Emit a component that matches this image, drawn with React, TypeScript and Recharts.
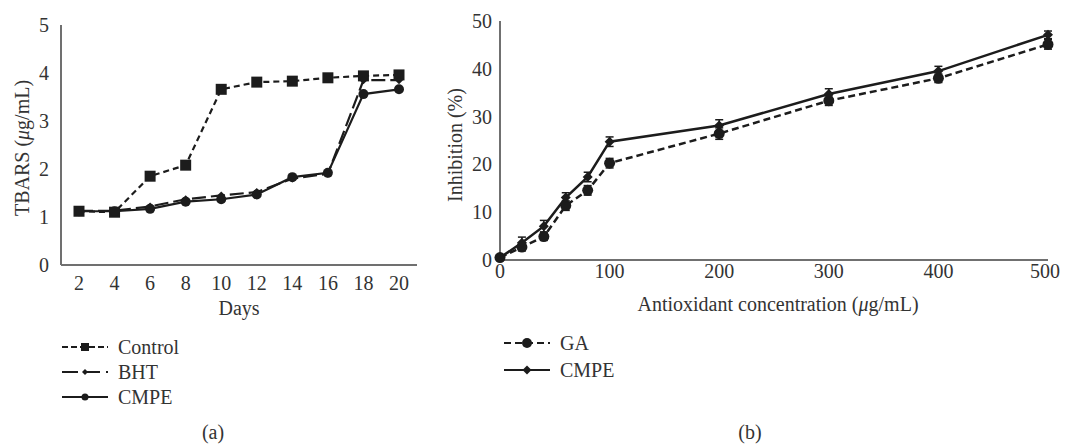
import { ErrorBar, Line, LineChart, XAxis, YAxis } from "recharts"

// (a) TBARS over storage days
const days = [2, 4, 6, 8, 10, 12, 14, 16, 18, 20]
const controlValues = [1.12, 1.1, 1.85, 2.08, 3.66, 3.81, 3.83, 3.9, 3.94, 3.96]
const bhtValues = [1.13, 1.13, 1.22, 1.37, 1.45, 1.52, 1.8, 1.9, 3.85, 3.85]
const cmpeDaysValues = [1.12, 1.12, 1.17, 1.32, 1.37, 1.47, 1.83, 1.92, 3.56, 3.66]
const tbarsTicks = [0, 1, 2, 3, 4, 5]

// (b) inhibition vs antioxidant concentration
const concentrations = [0, 20, 40, 60, 80, 100, 200, 300, 400, 500]
const gaValues = [0.4, 2.6, 4.8, 11.3, 14.5, 20.2, 26.4, 33.3, 38, 45.1]
const gaErrors = [0.4, 0.8, 0.8, 1, 1, 1, 1.2, 1, 0.9, 1]
const cmpeConcValues = [0.4, 3.5, 7, 13, 17.3, 24.7, 28.1, 34.7, 39.5, 47.1]
const cmpeConcErrors = [0.5, 1.2, 1.2, 1, 1, 1, 1.2, 1.1, 1, 0.8]
const concTicks = [0, 100, 200, 300, 400, 500]
const inhibitionTicks = [0, 10, 20, 30, 40, 50]

const daysData = days.map((d, i) => ({
  day: d,
  control: controlValues[i],
  bht: bhtValues[i],
  cmpe: cmpeDaysValues[i],
}))

const concData = concentrations.map((c, i) => ({
  conc: c,
  ga: gaValues[i],
  gaErr: gaErrors[i],
  cmpe: cmpeConcValues[i],
  cmpeErr: cmpeConcErrors[i],
}))

const INK = "#1c1c1c"
const AXIS = "#707070"
const TEXT = "#333"
const FONT = "'Liberation Serif', 'DejaVu Serif', serif"

const tickStyle = { fontSize: 20, fill: TEXT, fontFamily: FONT }

const SquareDot = (props: any) => {
  const { cx, cy, index } = props
  if (cx == null || cy == null) return null
  return <rect key={`sq-${index}`} x={cx - 5.5} y={cy - 5.5} width={11} height={11} fill={INK} />
}

const makeCircleDot = (r: number, tag: string) => (props: any) => {
  const { cx, cy, index } = props
  if (cx == null || cy == null) return null
  return <circle key={`${tag}-${index}`} cx={cx} cy={cy} r={r} fill={INK} />
}

const makeDiamondDot = (s: number, tag: string) => (props: any) => {
  const { cx, cy, index } = props
  if (cx == null || cy == null) return null
  return (
    <path
      key={`${tag}-${index}`}
      d={`M${cx},${cy - s}L${cx + s},${cy}L${cx},${cy + s}L${cx - s},${cy}Z`}
      fill={INK}
    />
  )
}

function LegendRow({ x, y, label, dash, marker }: { x: number; y: number; label: string; dash?: string; marker: string }) {
  const x1 = x
  const x2 = x + 46
  const mx = (x1 + x2) / 2
  let shape = null
  if (marker === "square") shape = <rect x={mx - 4} y={y - 4} width={8} height={8} fill={INK} />
  if (marker === "smallDiamond") shape = <path d={`M${mx},${y - 3}L${mx + 3},${y}L${mx},${y + 3}L${mx - 3},${y}Z`} fill={INK} />
  if (marker === "smallCircle") shape = <circle cx={mx} cy={y} r={3.5} fill={INK} />
  if (marker === "circle") shape = <circle cx={mx} cy={y} r={5} fill={INK} />
  if (marker === "diamond") shape = <path d={`M${mx},${y - 4.5}L${mx + 4.5},${y}L${mx},${y + 4.5}L${mx - 4.5},${y}Z`} fill={INK} />
  return (
    <g>
      <line x1={x1} y1={y} x2={x2} y2={y} stroke={INK} strokeWidth={2.2} strokeDasharray={dash} />
      {shape}
      <text x={x + 56} y={y} dominantBaseline="central" fontSize={20} fill={TEXT} fontFamily={FONT}>
        {label}
      </text>
    </g>
  )
}

export default function App() {
  return (
    <div style={{ position: "absolute", left: 0, top: 0, width: 1065, height: 444, background: "#fff" }}>
      <div style={{ position: "absolute", left: 0, top: 0 }}>
        <LineChart width={430} height={300} data={daysData} margin={{ top: 25, right: 13, left: 21, bottom: 0 }}>
          <XAxis
            dataKey="day"
            height={35}
            padding={{ left: 18, right: 18 }}
            axisLine={{ stroke: AXIS, strokeWidth: 2 }}
            tickLine={false}
            tickSize={0}
            tickMargin={11}
            tick={tickStyle}
            interval={0}
          />
          <YAxis
            width={40}
            domain={[0, 5]}
            ticks={tbarsTicks}
            axisLine={{ stroke: AXIS, strokeWidth: 2 }}
            tickLine={false}
            tickSize={0}
            tickMargin={12}
            tick={tickStyle}
          />
          <Line dataKey="control" stroke={INK} strokeWidth={2.2} strokeDasharray="6 4" dot={SquareDot} activeDot={false} isAnimationActive={false} />
          <Line dataKey="bht" stroke={INK} strokeWidth={2.2} strokeDasharray="14 5" dot={makeDiamondDot(4, "bht")} activeDot={false} isAnimationActive={false} />
          <Line dataKey="cmpe" stroke={INK} strokeWidth={2.2} dot={makeCircleDot(5, "cmpeA")} activeDot={false} isAnimationActive={false} />
        </LineChart>
      </div>

      <div style={{ position: "absolute", left: 420, top: 0 }}>
        <LineChart width={640} height={300} data={concData} margin={{ top: 21, right: 12, left: 40, bottom: 0 }}>
          <XAxis
            dataKey="conc"
            type="number"
            domain={[0, 500]}
            ticks={concTicks}
            height={40}
            axisLine={{ stroke: AXIS, strokeWidth: 2 }}
            tickLine={false}
            tickSize={0}
            tickMargin={4}
            tick={tickStyle}
          />
          <YAxis
            width={40}
            domain={[0, 50]}
            ticks={inhibitionTicks}
            axisLine={{ stroke: AXIS, strokeWidth: 2 }}
            tickLine={false}
            tickSize={0}
            tickMargin={8}
            tick={tickStyle}
          />
          <Line dataKey="ga" stroke={INK} strokeWidth={2.5} strokeDasharray="7 4" dot={makeCircleDot(5.5, "ga")} activeDot={false} isAnimationActive={false}>
            <ErrorBar dataKey="gaErr" direction="y" width={4} stroke={INK} strokeWidth={1.5} />
          </Line>
          <Line dataKey="cmpe" stroke={INK} strokeWidth={2.5} dot={makeDiamondDot(5, "cmpeB")} activeDot={false} isAnimationActive={false}>
            <ErrorBar dataKey="cmpeErr" direction="y" width={4} stroke={INK} strokeWidth={1.5} />
          </Line>
        </LineChart>
      </div>

      <svg width={1065} height={444} style={{ position: "absolute", left: 0, top: 0, pointerEvents: "none" }}>
        <g fontFamily={FONT} fontSize={20} fill={TEXT}>
          <text x={22} y={148} textAnchor="middle" dominantBaseline="central" transform="rotate(-90 22 148)">
            TBARS (<tspan fontStyle="italic">μ</tspan>g/mL)
          </text>
          <text x={239} y={315} textAnchor="middle">Days</text>
          <text x={455} y={145} textAnchor="middle" dominantBaseline="central" transform="rotate(-90 455 145)">
            Inhibition (%)
          </text>
          <text x={778} y={311} textAnchor="middle">
            Antioxidant concentration (<tspan fontStyle="italic">μ</tspan>g/mL)
          </text>
          <text x={213} y={432} textAnchor="middle" dominantBaseline="central">(a)</text>
          <text x={750} y={432} textAnchor="middle" dominantBaseline="central">(b)</text>
        </g>
        <LegendRow x={62} y={347} label="Control" dash="6 3" marker="square" />
        <LegendRow x={62} y={372} label="BHT" dash="16 6" marker="smallDiamond" />
        <LegendRow x={62} y={397} label="CMPE" marker="smallCircle" />
        <LegendRow x={504} y={343} label="GA" dash="7 4" marker="circle" />
        <LegendRow x={504} y={370} label="CMPE" marker="diamond" />
      </svg>
    </div>
  )
}
